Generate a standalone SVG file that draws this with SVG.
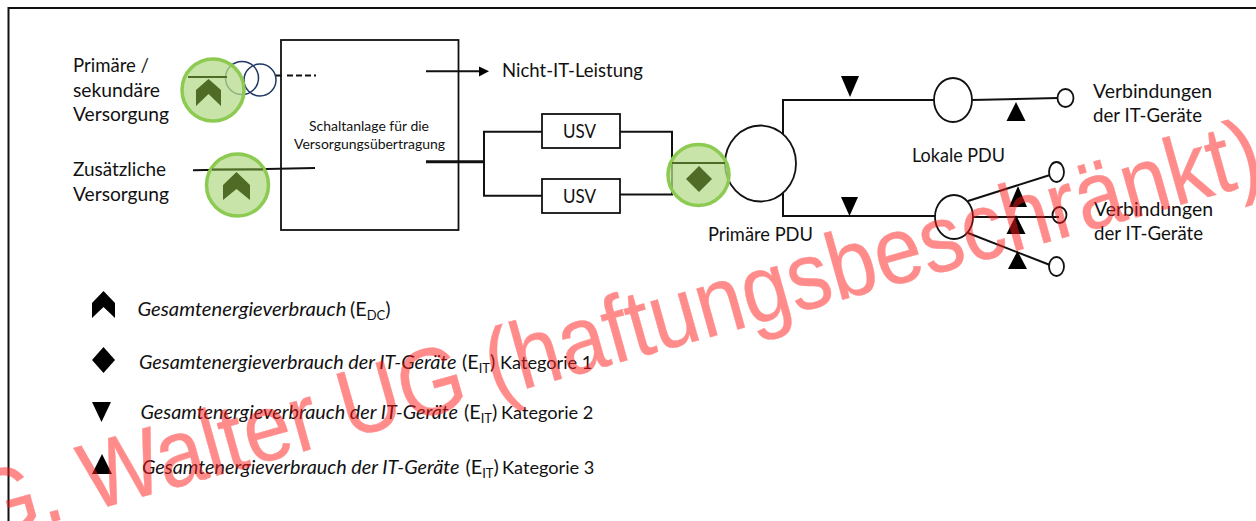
<svg xmlns="http://www.w3.org/2000/svg" width="1256" height="521" viewBox="0 0 1256 521">
<style>
text{font-family:"Lato","Open Sans","Liberation Sans",sans-serif;fill:#111;font-size:19px}
.s{font-size:14px}
.lg{font-size:19.8px}
.i{font-style:italic}
.sub{font-size:13px}
.k{font-size:18.2px}
.l{fill:none;stroke:#111;stroke-width:2}
.n{fill:#fff;stroke:#111;stroke-width:1.8}
.b{fill:#000}
.g{fill:#b5db8c;fill-opacity:.75;stroke:#8cca52;stroke-width:3.500}
.d{fill:#4f6b26}
.gl{fill:none;stroke:#4f6b26;stroke-width:2}
.t{fill:none;stroke:#1f3864;stroke-width:1.500}
.wm{font-family:"Liberation Sans",Arial,sans-serif;font-size:85px;fill:#ff1a1a;stroke:#ff1a1a;stroke-width:.4;opacity:.5}
</style>
<rect width="1256" height="521" fill="#fff"/>
<path class="l" d="M1256 8H8.500V521"/>
<g id="node-switchgear"><rect class="n" x="281" y="40" width="177.500" height="190"/><text class="s" x="369" y="131" text-anchor="middle" textLength="120" lengthAdjust="spacingAndGlyphs">Schaltanlage für die</text><text class="s" x="369.500" y="149" text-anchor="middle" textLength="151" lengthAdjust="spacingAndGlyphs">Versorgungsübertragung</text></g>
<g id="node-transformer"><circle class="t" cx="242" cy="78" r="16.500"/><circle class="t" cx="260" cy="80" r="16"/></g>
<g id="connectors">
<path class="l" d="M276 75.500H282M287 75.500H316" stroke-dasharray="6 3"/>
<path class="l" d="M193 170.300L315 168"/>
<path class="l" d="M426 71.300H480"/>
<path class="b" d="M479 66.500L489 71.300L479 76.500Z"/>
<path class="l" d="M426 161.700H484" style="stroke-width:3"/>
<path class="l" d="M484 161.700V131.700H542M484 161.700V195.700H542M620 131.700H672V194.500H620"/>
<path class="l" d="M783 140V100H934M783 190V216H936"/>
<path class="l" d="M972 100L1058 98"/>
<path class="l" d="M968 201L1050 175M972 217L1056 217M968 233L1050 265"/>
</g>
<g id="node-primary-supply"><text x="73" y="72" textLength="76" lengthAdjust="spacingAndGlyphs">Primäre /</text><text x="73" y="97" textLength="87" lengthAdjust="spacingAndGlyphs">sekundäre</text><text x="73" y="121" textLength="96" lengthAdjust="spacingAndGlyphs">Versorgung</text></g>
<g id="node-additional-supply"><text x="73" y="176" textLength="93" lengthAdjust="spacingAndGlyphs">Zusätzliche</text><text x="73" y="200.500" textLength="96" lengthAdjust="spacingAndGlyphs">Versorgung</text></g>
<g id="node-meter-1"><circle class="g" cx="213" cy="90" r="31"/><path class="gl" d="M188 77H227"/><path class="d" d="M196 90L208.500 79L221 90V106L208.500 94L196 106Z"/></g>
<g id="node-meter-2"><circle class="g" cx="237.500" cy="185" r="31"/><path class="gl" d="M212 169.500H263"/><path class="d" d="M223 185L236.500 172L250 185V200L236.500 189L223 200Z"/></g>
<text x="502" y="77" textLength="141" lengthAdjust="spacingAndGlyphs">Nicht-IT-Leistung</text>
<g id="node-usv-1"><rect class="n" x="542" y="114" width="78" height="34"/><text x="563" y="138" textLength="33" lengthAdjust="spacingAndGlyphs">USV</text></g>
<g id="node-usv-2"><rect class="n" x="542" y="179" width="78" height="34"/><text x="563" y="203" textLength="33" lengthAdjust="spacingAndGlyphs">USV</text></g>
<g id="node-primary-pdu"><ellipse class="n" cx="760.500" cy="163.500" rx="35.500" ry="38"/><text x="708" y="240.500" textLength="105" lengthAdjust="spacingAndGlyphs">Primäre PDU</text></g>
<g id="node-meter-3"><circle class="g" cx="698.500" cy="175" r="30.500"/><path class="gl" d="M672 163H725"/><path class="d" d="M699 166L712 179L699 192L686 179Z"/></g>
<g id="node-local-pdu-1"><ellipse class="n" cx="953" cy="100" rx="19" ry="22"/></g>
<text x="912" y="162" textLength="93" lengthAdjust="spacingAndGlyphs">Lokale PDU</text>
<g id="node-local-pdu-2"><ellipse class="n" cx="954" cy="217" rx="19" ry="22"/></g>
<g id="node-outlet-1"><ellipse class="n" cx="1065.500" cy="98" rx="8" ry="9"/></g>
<g id="node-outlet-2"><ellipse class="n" cx="1056.500" cy="172" rx="7.500" ry="10"/></g>
<g id="node-outlet-3"><ellipse class="n" cx="1059.500" cy="215" rx="7" ry="8"/></g>
<path class="l" d="M1052 217H1059"/>
<g id="node-outlet-4"><ellipse class="n" cx="1056.500" cy="266.500" rx="7.500" ry="9.500"/></g>
<g id="markers">
<path class="b" d="M841 76H859L850 97Z"/>
<path class="b" d="M841 197H858L849.500 216Z"/>
<path class="b" d="M1016 102L1025.500 121H1006.500Z"/>
<path class="b" d="M1018 186L1027 207H1009Z"/>
<path class="b" d="M1016 215L1025.500 234H1006.500Z"/>
<path class="b" d="M1017.500 251L1027 269H1008Z"/>
</g>
<text x="1093" y="98" textLength="119" lengthAdjust="spacingAndGlyphs">Verbindungen</text><text x="1093" y="122" textLength="109" lengthAdjust="spacingAndGlyphs">der IT-Geräte</text>
<text x="1094" y="216" textLength="119" lengthAdjust="spacingAndGlyphs">Verbindungen</text><text x="1094" y="240" textLength="109" lengthAdjust="spacingAndGlyphs">der IT-Geräte</text>
<g id="legend">
<path class="b" d="M92 303L103.500 291L115 303V318L103.500 307L92 318Z"/>
<text class="lg" y="315.500"><tspan class="i" x="137.500" style="font-size:20.200px">Gesamtenergieverbrauch</tspan><tspan x="350">(E</tspan><tspan class="sub" dy="4">DC</tspan><tspan dy="-4">)</tspan></text>
<path class="b" d="M103.500 347L115 360L103.500 373L92 360Z"/>
<text class="lg" y="369"><tspan class="i" x="139">Gesamtenergieverbrauch der IT-Geräte</tspan><tspan x="462">(E</tspan><tspan class="sub" dy="4">IT</tspan><tspan dy="-4">)</tspan><tspan class="k" x="500">Kategorie 1</tspan></text>
<path class="b" d="M92 402H111L101.500 422Z"/>
<text class="lg" y="419"><tspan class="i" x="140.500">Gesamtenergieverbrauch der IT-Geräte</tspan><tspan x="464">(E</tspan><tspan class="sub" dy="4">IT</tspan><tspan dy="-4">)</tspan><tspan class="k" x="501">Kategorie 2</tspan></text>
<path class="b" d="M102 454L112 474H92Z"/>
<text class="lg" y="474"><tspan class="i" x="142">Gesamtenergieverbrauch der IT-Geräte</tspan><tspan x="465.500">(E</tspan><tspan class="sub" dy="4">IT</tspan><tspan dy="-4">)</tspan><tspan class="k" x="502">Kategorie 3</tspan></text>
</g>
<text class="wm" transform="translate(-19 542) rotate(-15.700) scale(1.005 1.12)">G. Walter UG (haftungsbeschränkt)</text>
</svg>
